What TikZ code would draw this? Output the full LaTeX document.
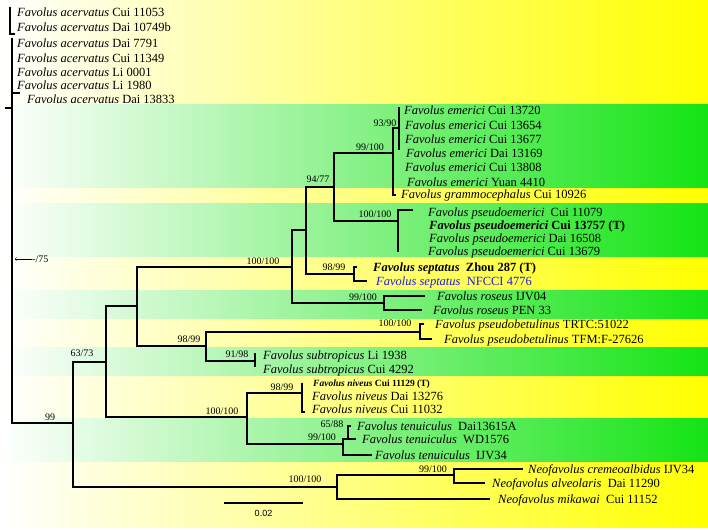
\documentclass[tikz,border=0pt]{standalone}
\usepackage{fontspec}
\setmainfont{Liberation Serif}
\setsansfont{Liberation Sans}
\usepackage{tikz}
\usetikzlibrary{calc}
\usetikzlibrary{positioning}
\definecolor{bandyellow}{RGB}{255,255,0}
\definecolor{bandgreen}{RGB}{20,228,20}
\definecolor{voucherblue}{RGB}{30,30,220}
\tikzstyle{yband} = [left color=white, middle color=bandyellow!35!white, right color=bandyellow]
\tikzstyle{gband} = [left color=white, middle color=bandgreen!55!white, right color=bandgreen]
\tikzstyle{branch} = [line width=1.8pt, line join=miter]
\tikzstyle{taxon} = [anchor=west, inner sep=0pt, text height=8pt, text depth=0pt, font=\fontsize{12.5}{14}\selectfont]
\tikzstyle{support} = [inner sep=0pt, font=\fontsize{10}{12}\selectfont]
\newcommand{\taxname}[2]{\textit{#1} #2}

\begin{document}
\begin{tikzpicture}[x=1pt, y=-1pt]
  \useasboundingbox (0,0) rectangle (708,529);
  % background bands
  \foreach \ya/\yb in {0/105, 188/203, 256/290, 318/347, 375/418, 461/527}
    \shade[yband] (0,\ya) rectangle (708,\yb);
  \foreach \ya/\yb in {105/188, 203/256, 290/318, 347/375, 418/461}
    \shade[gband] (0,\ya) rectangle (708,\yb);

  % internal nodes
  \coordinate (rootTop) at (12,38);
  \coordinate (n99) at (73,423);
  \coordinate (n6373) at (106,362);
  \coordinate (nNeo) at (337,487);
  \coordinate (nNeo2) at (454,475);
  \coordinate (nCore) at (137,306);
  \coordinate (n9899) at (206,346);
  \coordinate (nBet) at (420,332);
  \coordinate (nSub) at (255,361);
  \coordinate (nTop) at (292,267);
  \coordinate (n306) at (306,230);
  \coordinate (n334) at (334,187);
  \coordinate (nEme) at (393,153);
  \coordinate (nEme2) at (399,128);
  \coordinate (nPse) at (398,221);
  \coordinate (nSep) at (354,274);
  \coordinate (nRos) at (384,303);
  \coordinate (nNiv) at (247,417);
  \coordinate (nNiv2) at (302,393);
  \coordinate (nTen) at (343,444);
  \coordinate (nTen2) at (348,439);

  % tip ends
  \coordinate (acvA) at (10,7);
  \coordinate (acvB) at (15,34);
  \coordinate (acvC) at (20,93);
  \coordinate (stub) at (5,108);
  \coordinate (arr) at (15,259);
  \coordinate (cre) at (523,469);
  \coordinate (alv) at (485,483);
  \coordinate (mik) at (490,499);
  \coordinate (bet1) at (424,324);
  \coordinate (bet2) at (432,339);
  \coordinate (sub1) at (255,353);
  \coordinate (sub2) at (255,367);
  \coordinate (eme1) at (399,107);
  \coordinate (eme3) at (399,150);
  \coordinate (gra) at (396,195);
  \coordinate (pse1) at (413,210);
  \coordinate (pse4) at (398,252);
  \coordinate (sep1) at (357,267);
  \coordinate (sep2) at (367,281);
  \coordinate (ros1) at (425,296);
  \coordinate (ros2) at (422,310);
  \coordinate (niv1) at (302,383);
  \coordinate (niv3) at (305,412);
  \coordinate (ten1) at (351,426);
  \coordinate (ten2) at (356,439);
  \coordinate (ten3) at (372,455);

  % branches
  \draw[branch] (acvA) |- (acvB);
  \draw[branch] (rootTop) |- (n99);
  \draw[branch] (rootTop) |- (acvC);
  \draw[branch] (stub) -- (stub -| rootTop);
  \draw[line width=2.8pt] (stub -| rootTop) -- (arr -| rootTop);
  \draw[branch] (n99) |- (n6373);
  \draw[branch] (n99) |- (nNeo);
  \draw[branch] (nNeo) |- (nNeo2);
  \draw[branch] (nNeo) |- (mik);
  \draw[branch] (nNeo2) |- (cre);
  \draw[branch] (nNeo2) |- (alv);
  \draw[branch] (n6373) |- (nCore);
  \draw[branch] (n6373) |- (nNiv);
  \draw[branch] (nCore) |- (nTop);
  \draw[branch] (nCore) |- (n9899);
  \draw[branch] (n9899) |- (nBet);
  \draw[branch] (n9899) |- (nSub);
  \draw[branch] (nBet) |- (bet1);
  \draw[branch] (nBet) |- (bet2);
  \draw[branch] (sub1) -- (sub2);
  \draw[branch] (nTop) |- (n306);
  \draw[branch] (nTop) |- (nRos);
  \draw[branch] (nRos) |- (ros1);
  \draw[branch] (nRos) |- (ros2);
  \draw[branch] (n306) |- (n334);
  \draw[branch] (n306) |- (nSep);
  \draw[branch] (nSep) |- (sep1);
  \draw[branch] (nSep) |- (sep2);
  \draw[branch] (n334) |- (nEme);
  \draw[branch] (n334) |- (nPse);
  \draw[branch] (nEme) |- (nEme2);
  \draw[branch] (nEme) |- (gra);
  \draw[branch] (eme1) -- (eme3);
  \draw[branch] (nPse) |- (pse1);
  \draw[branch] (nPse) |- (pse4);
  \draw[branch] (nNiv) |- (nNiv2);
  \draw[branch] (nNiv) |- (nTen);
  \draw[branch] (nNiv2) |- (niv1);
  \draw[branch] (nNiv2) |- (niv3);
  \draw[branch] (nTen) |- (nTen2);
  \draw[branch] (nTen) |- (ten3);
  \draw[branch] (nTen2) |- (ten1);
  \draw[branch] (nTen2) |- (ten2);

  % taxa
  \node[taxon] (acv1) at (17,13) {\taxname{Favolus acervatus}{Cui 11053}};
  \node[taxon] (acv2) at (17,28) {\taxname{Favolus acervatus}{Dai 10749b}};
  \node[taxon] (acv3) at (17,44) {\taxname{Favolus acervatus}{Dai 7791}};
  \node[taxon] (acv4) at (17,59) {\taxname{Favolus acervatus}{Cui 11349}};
  \node[taxon] (acv5) at (17,73) {\taxname{Favolus acervatus}{Li 0001}};
  \node[taxon] (acv6) at (17,86) {\taxname{Favolus acervatus}{Li 1980}};
  \node[taxon] (acv7) at (27,100) {\taxname{Favolus acervatus}{Dai 13833}};
  \node[taxon] (emeT1) at (404,111) {\taxname{Favolus emerici}{Cui 13720}};
  \node[taxon] (emeT2) at (405,126) {\taxname{Favolus emerici}{Cui 13654}};
  \node[taxon] (emeT3) at (405,140) {\taxname{Favolus emerici}{Cui 13677}};
  \node[taxon] (emeT4) at (406,154) {\taxname{Favolus emerici}{Dai 13169}};
  \node[taxon] (emeT5) at (405,168) {\taxname{Favolus emerici}{Cui 13808}};
  \node[taxon] (emeT6) at (407,182) {\taxname{Favolus emerici}{Yuan 4410}};
  \node[taxon, right=5pt of gra] (graT) {\taxname{Favolus grammocephalus}{Cui 10926}};
  \node[taxon] (pseT1) at (428,212) {\taxname{Favolus pseudoemerici}{\ Cui 11079}};
  \node[taxon, font=\fontsize{12.5}{14}\selectfont\bfseries] (pseT2) at (429,225) {\taxname{Favolus pseudoemerici}{Cui 13757 (T)}};
  \node[taxon] (pseT3) at (429,238) {\taxname{Favolus pseudoemerici}{Dai 16508}};
  \node[taxon] (pseT4) at (428,251) {\taxname{Favolus pseudoemerici}{Cui 13679}};
  \node[taxon, right=16pt of sep1, font=\fontsize{12.5}{14}\selectfont\bfseries] (sepT1) {\taxname{Favolus septatus}{\ Zhou 287 (T)}};
  \node[taxon, right=9pt of sep2, text=voucherblue] (sepT2) {\taxname{Favolus septatus}{\ NFCCI 4776}};
  \node[taxon, right=12pt of ros1] (rosT1) {\taxname{Favolus roseus}{IJV04}};
  \node[taxon, right=11pt of ros2] (rosT2) {\taxname{Favolus roseus}{PEN 33}};
  \node[taxon, right=11pt of bet1] (betT1) {\taxname{Favolus pseudobetulinus}{TRTC:51022}};
  \node[taxon, right=12pt of bet2] (betT2) {\taxname{Favolus pseudobetulinus}{TFM:F-27626}};
  \node[taxon] (subT1) at (263,355) {\taxname{Favolus subtropicus}{Li 1938}};
  \node[taxon] (subT2) at (263,369) {\taxname{Favolus subtropicus}{Cui 4292}};
  \node[taxon, font=\fontsize{9.5}{11}\selectfont\bfseries, text height=6.5pt] (nivT1) at (313,383) {\taxname{Favolus niveus}{Cui 11129 (T)}};
  \node[taxon] (nivT2) at (312,396) {\taxname{Favolus niveus}{Dai 13276}};
  \node[taxon] (nivT3) at (312,409) {\taxname{Favolus niveus}{Cui 11032}};
  \node[taxon, right=6pt of ten1] (tenT1) {\taxname{Favolus tenuiculus}{\ Dai13615A}};
  \node[taxon, right=6pt of ten2] (tenT2) {\taxname{Favolus tenuiculus}{\ WD1576}};
  \node[taxon, right=3pt of ten3] (tenT3) {\taxname{Favolus tenuiculus}{\ IJV34}};
  \node[taxon, right=5pt of cre] (creT) {\taxname{Neofavolus cremeoalbidus}{IJV34}};
  \node[taxon, right=7pt of alv] (alvT) {\taxname{Neofavolus alveolaris}{\ Dai 11290}};
  \node[taxon, right=8pt of mik] (mikT) {\taxname{Neofavolus mikawai}{\ Cui 11152}};

  % support values
  \node[support] (lab99) at (50,417) {99};
  \node[support] (lab6373) at (82,353) {63/73};
  \node[support] (labNeo) at (305,479) {100/100};
  \node[support] (labNeo2) at (433,469) {99/100};
  \node[support] (labCore) at (263,261) {100/100};
  \node[support] (lab9899) at (189,339) {98/99};
  \node[support] (labBet) at (395,323) {100/100};
  \node[support] (labSub) at (237,354) {91/98};
  \node[support] (labRos) at (363,297) {99/100};
  \node[support] (labSep) at (334,267) {98/99};
  \node[support] (lab9477) at (318,179) {94/77};
  \node[support] (labEme) at (370,147) {99/100};
  \node[support] (lab9390) at (385,123) {93/90};
  \node[support] (labPse) at (375,214) {100/100};
  \node[support] (labNiv) at (222,411) {100/100};
  \node[support] (labNiv2) at (282,387) {98/99};
  \node[support] (labTen) at (322,437) {99/100};
  \node[support] (labTen2) at (332,424) {65/88};
  \node[support, anchor=west] (lab75) at (32,259) {-/75};
  \draw[->] (lab75.west) -- (arr);

  % scale bar
  \coordinate (sbL) at (224,503);
  \coordinate (sbR) at (303,503);
  \draw[branch] (sbL) -- (sbR);
  \node[support, font=\fontsize{9}{11}\sffamily, below=7pt of $(sbL)!0.5!(sbR)$] (sbLab) {0.02};
\end{tikzpicture}
\end{document}
